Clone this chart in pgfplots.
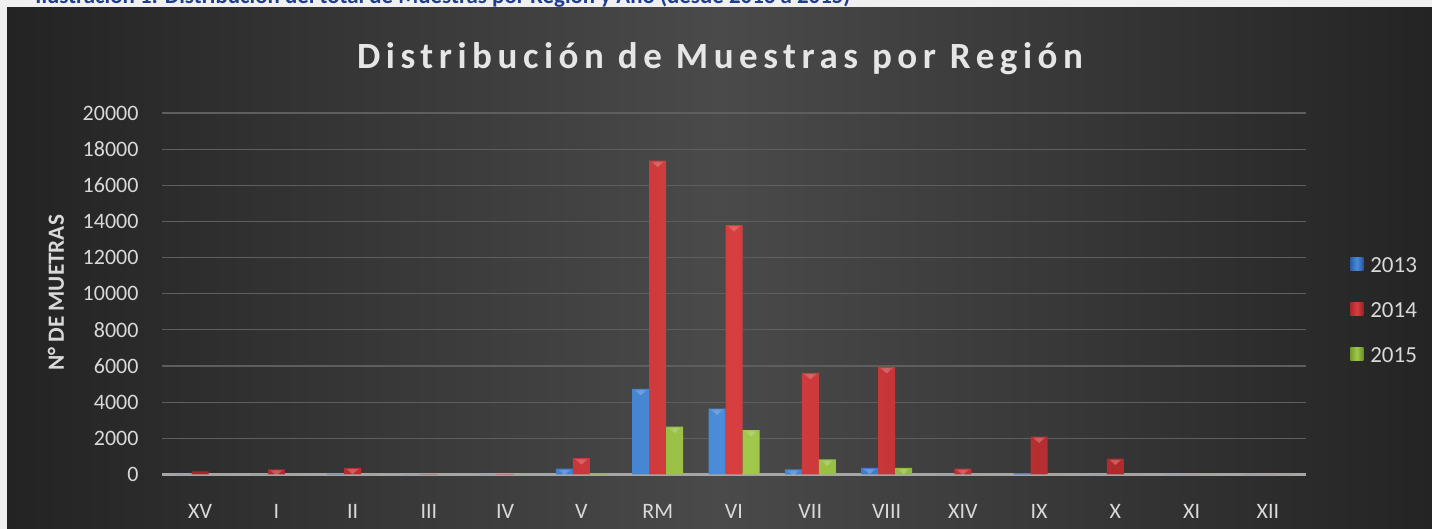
\documentclass[border=0pt]{standalone}
\usepackage{fontspec}
\setmainfont{Carlito}
\newfontfamily\titlefont[LetterSpace=15]{Carlito}
\usepackage{pgfplots}
\pgfplotsset{compat=1.18}
\definecolor{pagebg}{HTML}{F0F0F0}
\definecolor{dkA}{HTML}{232323}
\definecolor{dkB}{HTML}{4A4A4A}
\definecolor{dkC}{HTML}{242424}
\definecolor{navy}{HTML}{1F3D8C}
\definecolor{gridc}{HTML}{5E5E5E}
\definecolor{axc}{HTML}{A6A6A6}
\definecolor{tickc}{HTML}{D9D9D9}
\definecolor{titc}{HTML}{E6E6E6}
\definecolor{bL}{HTML}{2A5EA6}\definecolor{bM}{HTML}{4A8CDA}\definecolor{bR}{HTML}{2657A0}
\definecolor{rL}{HTML}{A8272C}\definecolor{rM}{HTML}{D63E3F}\definecolor{rR}{HTML}{9E2226}
\definecolor{gL}{HTML}{769C2B}\definecolor{gM}{HTML}{A0C84A}\definecolor{gR}{HTML}{6B9025}
\begin{document}
\begin{tikzpicture}
\fill[pagebg] (0pt,0pt) rectangle (716pt,264.5pt);
\shade[left color=dkA, right color=dkC, middle color=dkB] (3.5pt,0pt) rectangle (716pt,260.5pt);
\begin{scope}
\clip (3.5pt,260.5pt) rectangle (716pt,264.5pt);
\node[anchor=base west, inner sep=0pt, text=navy, font=\bfseries] at (17.5pt,262.8pt)
  {\resizebox{407.5pt}{!}{Ilustración 1: Distribución del total de Muestras por Región y Año (desde 2013 a 2015)}};
\end{scope}
\node[anchor=base, inner sep=0pt, text=titc, font=\titlefont\bfseries\fontsize{18.5}{20}\selectfont] at (360pt,230pt) {Distribución de Muestras por Región};
\node[rotate=90, inner sep=0pt, text=tickc, font=\bfseries\fontsize{11.6}{13}\selectfont] at (28pt,118pt) {N° DE MUETRAS};
\begin{axis}[
  at={(80.95pt,27.25pt)}, anchor=south west,
  scale only axis, width=572.1pt, height=180.75pt,
  xmin=-0.5, xmax=14.5, ymin=0, ymax=20000,
  axis line style={draw=none},
  major tick style={draw=none},
  ymajorgrids, grid style={color=gridc, line width=0.6pt},
  ytick={2000,4000,...,20000},
  extra y ticks={0},
  extra y tick style={grid style={color=axc, line width=1.4pt}},
  xtick={0,...,14},
  xticklabels={XV,I,II,III,IV,V,RM,VI,VII,VIII,XIV,IX,X,XI,XII},
  ticklabel style={font=\fontsize{11}{13}\selectfont, text=tickc},
  xticklabel style={anchor=center, yshift=-14.25pt, inner sep=0pt},
  yticklabel style={anchor=east, xshift=-11.5pt, inner sep=0pt},
  /pgf/number format/assume math mode=true,
  /pgf/number format/1000 sep={},
  scaled y ticks=false,
  ybar=0pt, bar width=8.5pt,
  visualization depends on={y/1000 \as \ry},
  nodes near coords={\pgfmathparse{\ry>0.25}\ifdim\pgfmathresult pt>0.5pt\tikz\fill[white,opacity=0.3] (0pt,0pt)--(6pt,0pt)--(3pt,-2.6pt)--cycle;\fi},
  every node near coord/.append style={anchor=north, inner sep=0pt, yshift=-0.4pt},
  legend style={at={(1.033,0.452)}, anchor=west, draw=none, fill=none,
    font=\fontsize{11.5}{13}\selectfont, text=tickc, row sep=13.5pt,
    nodes={inner sep=0pt}, /tikz/every odd column/.append style={column sep=3.5pt}},
  legend cell align=left,
  legend image code/.code={\path[#1] (0pt,-2pt) rectangle (6.5pt,4.5pt);},
]
\addplot[draw=none, left color=bL, right color=bR, middle color=bM] coordinates {
(0,0) (1,0) (2,30) (3,0) (4,0) (5,320) (6,4730) (7,3650) (8,280) (9,370) (10,0) (11,60) (12,0) (13,0) (14,0)};
\addplot[draw=none, left color=rL, right color=rR, middle color=rM] coordinates {
(0,170) (1,290) (2,370) (3,25) (4,25) (5,900) (6,17360) (7,13800) (8,5620) (9,5950) (10,330) (11,2100) (12,880) (13,10) (14,0)};
\addplot[draw=none, left color=gL, right color=gR, middle color=gM] coordinates {
(0,0) (1,0) (2,0) (3,0) (4,0) (5,60) (6,2650) (7,2450) (8,840) (9,370) (10,0) (11,0) (12,0) (13,0) (14,0)};
\legend{2013,2014,2015}
\end{axis}
\end{tikzpicture}
\end{document}
